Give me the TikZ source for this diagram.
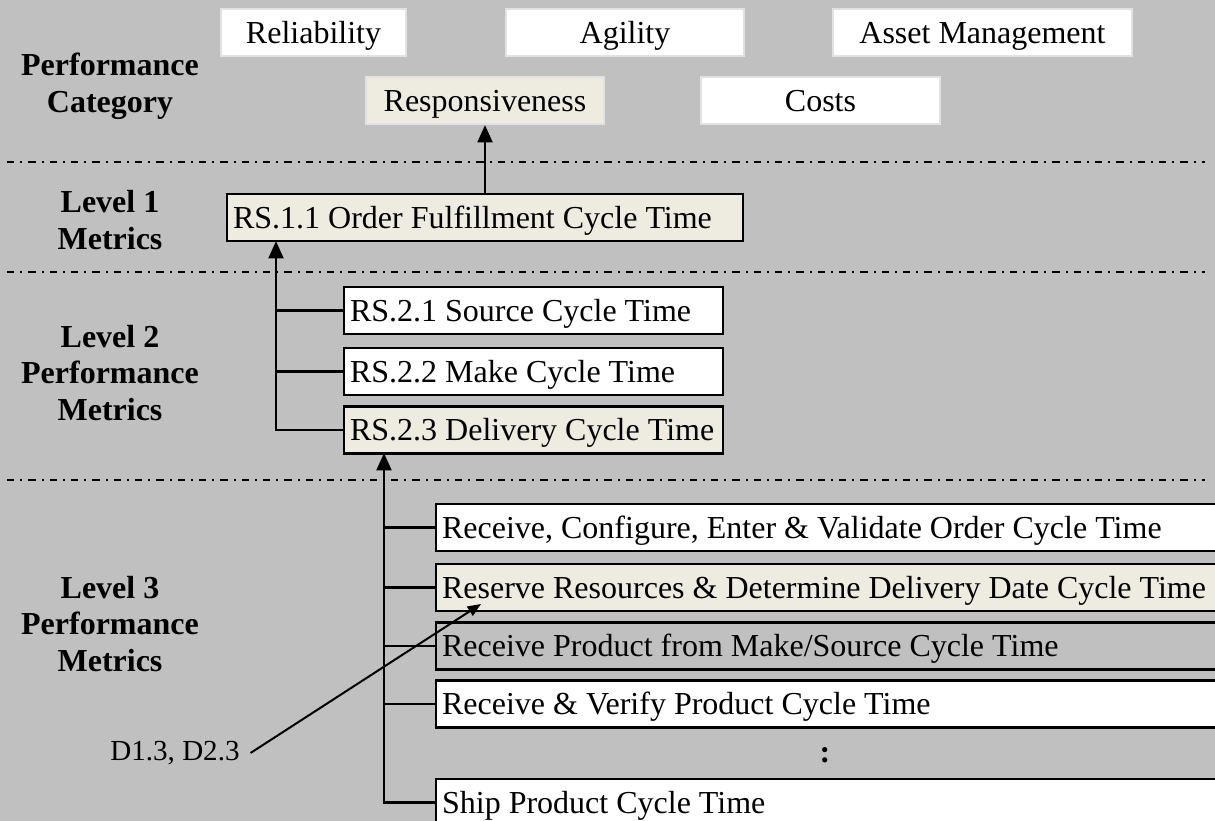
\documentclass[tikz,border=0pt]{standalone}
\usepackage{fontspec}
\setmainfont{Liberation Serif}
\usepackage{xcolor}
\usetikzlibrary{arrows.meta,positioning,calc}

\definecolor{bggray}{HTML}{C0C0C0}
\definecolor{cream}{HTML}{EEECE1}
\definecolor{softline}{HTML}{E2E2E2}

\tikzset{
	cat/.style={draw=softline,line width=1.5pt,fill=white,minimum height=35.25pt,inner sep=0pt,text height=20pt,text depth=4.2pt},
	metric/.style={draw=black,line width=1.6pt,fill=white,minimum height=35.25pt,inner xsep=4.5pt,inner ysep=0pt,anchor=west,align=flush left,text height=20pt,text depth=4.2pt},
	lvl/.style={font=\bfseries,align=center},
	conn/.style={line width=2.2pt},
	up/.style={conn,-{Triangle[length=13pt,width=11pt]}},
	sep/.style={line width=1.5pt,dash pattern=on 5.5pt off 4.5pt on 1.5pt off 4.5pt}
}

\begin{document}
\fontsize{24}{27.5}\selectfont
\begin{tikzpicture}[x=0.75pt,y=-0.75pt]
	\fill[bggray] (0,0) rectangle (1215,821);
	\useasboundingbox (0,0) rectangle (1215,821);
	% performance categories
	\node[cat,minimum width=138.75pt](Rel) at (313.5,32.5) {Reliability};
	\node[cat,minimum width=178.5pt](Agi) at (625,32.5) {Agility};
	\node[cat,minimum width=224.25pt](AM) at (982.5,32.5) {Asset Management};
	\node[cat,minimum width=178.5pt,fill=cream](Resp) at (485,100.5) {Responsiveness};
	\node[cat,minimum width=179.25pt](Cost) at (820.5,100.5) {Costs};
	% level labels
	\node[lvl](PC) at (110,86) {Performance\\Category};
	\node[lvl](L1) at (110,220) {Level 1\\Metrics};
	\node[lvl](L2) at (110,373) {Level 2\\Performance\\Metrics};
	\node[lvl](L3) at (110,624) {Level 3\\Performance\\Metrics};
	% separators
	\coordinate (S1a) at (7,162); \coordinate (S1b) at (1205,162);
	\coordinate (S2a) at (7,272); \coordinate (S2b) at (1205,272);
	\coordinate (S3a) at (7,480); \coordinate (S3b) at (1205,480);
	\draw[sep] (S1a) -- (S1b);
	\draw[sep] (S2a) -- (S2b);
	\draw[sep] (S3a) -- (S3b);
	% level 1 and 2
	\node[metric,fill=cream,text width=378pt](OFCT) at (226,217.5) {RS.1.1 Order Fulfillment Cycle Time};
	\node[metric,text width=275.25pt](SCT) at (343,310.5) {RS.2.1 Source Cycle Time};
	\node[metric,text width=275.25pt](MCT) at (343,371.5) {RS.2.2 Make Cycle Time};
	\node[metric,fill=cream,text width=275.25pt](DCT) at (343,430) {RS.2.3 Delivery Cycle Time};
	% level 3
	\node[metric,text width=578.25pt](RCEV) at (435,527.5) {Receive, Configure, Enter \& Validate Order Cycle Time};
	\node[metric,fill=cream,text width=578.25pt](RRDD) at (435,587.5) {Reserve Resources \& Determine Delivery Date Cycle Time};
	\node[metric,fill=bggray,text width=578.25pt](RPMS) at (435,646) {Receive Product from Make/Source Cycle Time};
	\node[metric,text width=578.25pt](RVP) at (435,704) {Receive \& Verify Product Cycle Time};
	\node(More) at (825,755) {\textbf{:}};
	\node[metric,text width=578.25pt](SPCT) at (435,802.5) {Ship Product Cycle Time};
	\node[font=\fontsize{21.8}{24}\selectfont](DP) at (175,753) {D1.3, D2.3};
	% connectors
	\coordinate (J2) at (276,241);
	\coordinate (J3) at (384,453);
	\coordinate (DT) at (481,604);
	\draw[up] (OFCT.north -| Resp.south) -- (Resp.south);
	\draw[up] (DCT.west) -| (J2);
	\draw[conn] (SCT.west) -- (SCT.west -| J2);
	\draw[conn] (MCT.west) -- (MCT.west -| J2);
	\draw[up] (SPCT.west) -| (J3);
	\draw[conn] (RCEV.west) -- (RCEV.west -| J3);
	\draw[conn] (RRDD.west) -- (RRDD.west -| J3);
	\draw[conn] (RPMS.west) -- (RPMS.west -| J3);
	\draw[conn] (RVP.west) -- (RVP.west -| J3);
	\draw[line width=1.5pt,-{Triangle[length=10pt,width=8pt]}] (DP.east) -- (DT);
\end{tikzpicture}
\end{document}
